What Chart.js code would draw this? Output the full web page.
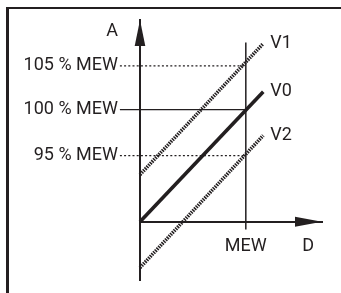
<!DOCTYPE html>
<html>
<head>
<meta charset="utf-8">
<script src="https://cdn.jsdelivr.net/npm/chart.js@4/dist/chart.umd.min.js"></script>
<style>
    body { margin: 0; background: #fff; }
    #wrap { position: relative; width: 341px; height: 293px; overflow: hidden; }
    #frame { position: absolute; left: 6px; top: 7px; width: 333px; height: 300px;
             border-top: 2px solid #231f20; border-left: 3px solid #231f20; }
    canvas { position: absolute; left: 0; top: 0; }
</style>
</head>
<body>
<div id="wrap">
    <div id="frame"></div>
    <canvas id="myChart" width="341" height="293"></canvas>
</div>
<script>
// schematic values (x: MEW = 1, y: 100 % MEW = 100)
let levelNames = ['95 % MEW', '100 % MEW', '105 % MEW'];
let levelValues = [59, 100, 139];
let levelStartX = -0.19;
let mewX = 1;

let yAxisName = 'A';
let yAxisNameValue = 170;

let xTickValues = [1, 1.59];
let xTickLabels = ['MEW', 'D'];

let lineNames = ['V1', 'V0', 'V2'];
let lineX = [0, 1.165];
let v1Values = [42, 159];
let v0Values = [0, 116];
let v2Values = [-41, 77];
let mewMarkerY = [160, -7];

const ink = '#231f20';
const fontFamily = "Roboto, 'Liberation Sans', Arial, sans-serif";
// where the plot area has to sit on the 341x293 canvas
const target = { top: 20, bottom: 280 };

function pts(xs, ys) {
    let out = [];
    for (let i = 0; i < xs.length; i++) {
        out.push({ x: xs[i], y: ys[i] });
    }
    return out;
}

let datasets = [];

// level lines 95 / 100 / 105 % MEW
for (let i = 0; i < levelNames.length; i++) {
    datasets.push({
        label: levelNames[i],
        data: pts([levelStartX, mewX], [levelValues[i], levelValues[i]]),
        borderColor: ink,
        borderWidth: 1.3,
        borderDash: levelNames[i] == '100 % MEW' ? [] : [2, 2.2],
        clip: false
    });
}

// MEW vertical marker
datasets.push({
    label: 'MEW',
    data: pts([mewX, mewX], mewMarkerY),
    borderColor: ink,
    borderWidth: 1.5,
    clip: false
});

let lineValues = [v1Values, v0Values, v2Values];
for (let i = 0; i < lineNames.length; i++) {
    datasets.push({
        label: lineNames[i],
        data: pts(lineX, lineValues[i]),
        borderColor: ink,
        borderWidth: 3.6,
        borderDash: lineNames[i] == 'V0' ? [] : [1.5, 1],
        borderCapStyle: 'butt',
        clip: false
    });
}

let yTicks = levelValues.concat([yAxisNameValue]);
let yLabels = levelNames.concat([yAxisName]);

const arrowsAndNames = {
    id: 'arrowsAndNames',
    afterDatasetsDraw(chart) {
        let ctx = chart.ctx;
        let area = chart.chartArea;
        let x0 = chart.scales.x.getPixelForValue(0);
        let y0 = chart.scales.y.getPixelForValue(0);
        ctx.save();
        ctx.fillStyle = ink;
        // y arrow
        ctx.beginPath();
        ctx.moveTo(x0, area.top);
        ctx.lineTo(x0 - 5.3, area.top + 26);
        ctx.lineTo(x0 + 5.3, area.top + 26);
        ctx.closePath();
        ctx.fill();
        // x arrow
        ctx.beginPath();
        ctx.moveTo(area.right, y0);
        ctx.lineTo(area.right - 27, y0 - 5);
        ctx.lineTo(area.right - 27, y0 + 5);
        ctx.closePath();
        ctx.fill();
        // line names at the line ends
        ctx.font = "18px " + fontFamily;
        ctx.textAlign = 'left';
        ctx.textBaseline = 'middle';
        chart.data.datasets.forEach((ds, i) => {
            if (lineNames.indexOf(ds.label) < 0) return;
            let meta = chart.getDatasetMeta(i);
            let last = meta.data[meta.data.length - 1];
            ctx.fillText(ds.label, last.x + 7, last.y);
        });
        ctx.restore();
    }
};

Chart.defaults.font.family = fontFamily;
Chart.defaults.font.size = 18;
Chart.defaults.color = ink;

let padding = { left: 0, top: target.top, right: 19, bottom: 293 - target.bottom };

const chart = new Chart(document.getElementById('myChart').getContext('2d'), {
    type: 'line',
    data: { datasets: datasets },
    options: {
        responsive: false,
        animation: false,
        events: [],
        layout: { padding: padding },
        elements: { point: { radius: 0 }, line: { tension: 0 } },
        plugins: { legend: { display: false }, tooltip: { enabled: false } },
        scales: {
            x: {
                type: 'linear',
                position: { y: 0 },
                min: 0,
                max: 1.72,
                grid: { display: false, drawTicks: false },
                border: { display: true, color: ink, width: 2 },
                afterFit: (scale) => { scale.height = 0; scale.paddingLeft = 0; scale.paddingRight = 0; },
                afterBuildTicks: (scale) => {
                    scale.ticks = xTickValues.map((v) => ({ value: v }));
                },
                ticks: {
                    padding: 13.5,
                    maxRotation: 0,
                    autoSkip: false,
                    callback: (value, index) => xTickLabels[index]
                }
            },
            y: {
                type: 'linear',
                position: 'left',
                min: -52,
                max: 180,
                grid: { display: false, drawTicks: false },
                border: { display: true, color: ink, width: 2 },
                afterFit: (scale) => { scale.width = 140; scale.paddingTop = 0; scale.paddingBottom = 0; },
                afterBuildTicks: (scale) => {
                    scale.ticks = yTicks.map((v) => ({ value: v }));
                },
                ticks: {
                    padding: 22,
                    autoSkip: false,
                    callback: (value, index) => yLabels[index]
                }
            }
        }
    },
    plugins: [arrowsAndNames]
});

// nudge the padding so the plot area lands where the drawing has it
let area = chart.chartArea;
if (Math.abs(area.top - target.top) > 0.5 || Math.abs(area.bottom - target.bottom) > 0.5) {
    padding.top += target.top - area.top;
    padding.bottom += area.bottom - target.bottom;
    chart.options.layout.padding = padding;
    chart.update();
}
</script>
</body>
</html>
